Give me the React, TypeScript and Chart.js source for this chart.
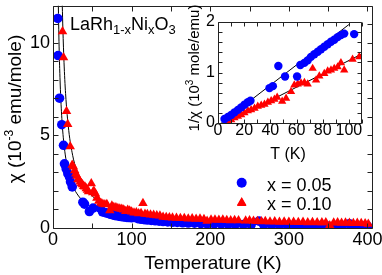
import React, { useEffect, useRef } from 'react';
import { Chart, registerables } from 'chart.js';
Chart.register(...registerables);

const FONT = '"Liberation Sans", Arial, Helvetica, sans-serif';

// ---- Main chart data: chi (10^-3 emu/mole) vs T (K)
const blueT = [6.0, 6.5, 8.3, 11.2, 13.4, 14.6, 16.8, 18.9, 21.0, 22.3, 24.5, 38.0, 40.1, 46.3, 51.0, 60.0, 63.0, 66.0, 68.5, 71.0, 73.6, 76.0, 78.7, 81.0, 84.0, 86.3, 89.0, 91.4, 94.0, 96.4, 100, 104, 108, 112, 116, 120, 125, 130, 135, 140, 146, 152, 158, 165, 172, 180, 188, 196, 205, 214, 223, 232, 242, 252, 262, 268, 278, 288, 298, 308, 318, 328, 338, 348, 358, 368, 377, 385, 393, 400];
const blueChi = [11.3, 9.3, 7.0, 5.57, 4.46, 3.46, 3.19, 2.93, 2.75, 2.49, 2.22, 1.39, 1.29, 0.89, 1.07, 1.07, 0.87, 0.84, 0.81, 0.77, 0.74, 0.71, 0.68, 0.66, 0.64, 0.62, 0.605, 0.59, 0.575, 0.565, 0.55, 0.57, 0.5, 0.47, 0.45, 0.43, 0.41, 0.39, 0.37, 0.35, 0.33, 0.31, 0.3, 0.28, 0.27, 0.26, 0.24, 0.23, 0.22, 0.21, 0.2, 0.19, 0.18, 0.17, 0.37, 0.17, 0.16, 0.15, 0.15, 0.14, 0.14, 0.13, 0.13, 0.12, 0.12, 0.12, 0.23, 0.11, 0.1, 0.1];

const redT = [12.1, 13.4, 17.2, 18.7, 21.9, 24.4, 26.0, 27.6, 29.0, 30.4, 31.8, 33.2, 34.6, 36.0, 37.5, 39.0, 40.6, 42.3, 43.8, 45.2, 48.7, 50.5, 52.0, 54.0, 55.8, 58.3, 60.9, 63.4, 66.0, 68.5, 72.3, 74.9, 77.4, 80.0, 82.5, 85.0, 87.5, 90.0, 92.5, 95.0, 97.5, 100, 103, 106, 109, 112, 114.4, 117, 120, 124, 128, 132, 136, 140, 144, 148, 152, 157, 162, 167, 172, 177, 182, 187, 192, 196, 201, 206, 211, 216, 221, 226, 231, 236, 240, 245, 250, 255, 260, 265, 270, 276, 282, 288, 294, 300, 306, 312, 318, 324, 330, 336, 342, 347, 352, 357, 362, 367, 372, 377, 382, 387, 392, 397, 401];
const redChi = [10.6, 9.2, 6.3, 5.6, 4.39, 3.4, 3.3, 3.1, 2.93, 2.8, 2.63, 2.6, 2.5, 2.4, 2.35, 2.25, 2.22, 2.13, 2.05, 1.97, 2.4, 1.92, 2.0, 1.85, 1.62, 1.45, 1.35, 1.3, 1.27, 1.28, 0.95, 1.2, 1.12, 1.1, 1.06, 1.04, 1.02, 0.98, 0.9, 0.97, 0.93, 0.88, 0.82, 0.84, 0.78, 0.8, 1.34, 0.76, 0.74, 0.72, 0.7, 0.68, 0.66, 0.6, 0.58, 0.56, 0.55, 0.54, 0.52, 0.53, 0.5, 0.51, 0.49, 0.5, 0.47, 0.38, 0.45, 0.44, 0.43, 0.44, 0.42, 0.41, 0.42, 0.4, 1.34, 0.39, 0.4, 0.38, 0.37, 0.35, 0.36, 0.34, 0.35, 0.33, 0.34, 0.32, 0.33, 0.31, 0.32, 0.3, 0.31, 0.29, 0.3, 0.29, 0.14, 0.28, 0.29, 0.27, 0.28, 0.27, 0.26, 0.27, 0.25, 0.24, 0.22];

// Curie-Weiss fit curves (black)
const blueFitT = [6.8, 7.5, 8.5, 10, 12, 15, 20, 25, 30, 40, 50, 60, 80, 100, 150, 200, 300, 400];
const blueFitChi = [12.0, 10.3, 8.6, 6.9, 5.44, 4.14, 2.95, 2.3, 1.88, 1.38, 1.09, 0.9, 0.67, 0.53, 0.35, 0.26, 0.17, 0.13];
const redFitT = [11.8, 12.6, 14, 16, 20, 25, 30, 40, 50, 60, 80, 100, 150, 200, 300, 400];
const redFitChi = [12.0, 10.7, 8.94, 7.25, 5.27, 3.92, 3.13, 2.22, 1.72, 1.41, 1.03, 0.81, 0.53, 0.395, 0.26, 0.195];

// ---- Inset data: 1/chi (10^3 mole/emu) vs T (K)
const insetBlueT = [5.0, 7.6, 10.1, 12.6, 15.2, 17.7, 20.2, 22.8, 24.8, 39.3, 41.9, 46.1, 51.2, 60.4, 62.9, 66.0, 68.5, 71.0, 73.6, 76.2, 78.7, 81.2, 83.8, 86.3, 88.8, 91.4, 93.9, 96.4, 104];
const insetBlueInv = [0.08, 0.12, 0.16, 0.21, 0.26, 0.31, 0.36, 0.41, 0.44, 0.69, 0.73, 1.13, 0.92, 0.92, 1.15, 1.19, 1.24, 1.31, 1.36, 1.41, 1.46, 1.51, 1.56, 1.61, 1.65, 1.7, 1.74, 1.77, 1.76];
const insetRedT = [7.6, 10.1, 12.6, 15.2, 17.7, 20.2, 22.8, 25.3, 27.9, 30.4, 33.0, 35.5, 38.1, 40.6, 43.1, 45.2, 49.0, 52.0, 55.8, 58.3, 60.9, 63.4, 66.0, 68.5, 72.3, 74.9, 77.4, 81.2, 83.8, 86.3, 88.8, 91.4, 93.9, 96.4, 102.8, 107.9];
const insetRedInv = [0.03, 0.06, 0.1, 0.13, 0.16, 0.2, 0.24, 0.26, 0.29, 0.33, 0.35, 0.37, 0.41, 0.44, 0.47, 0.51, 0.43, 0.49, 0.62, 0.75, 0.77, 0.79, 0.8, 0.77, 1.08, 0.85, 0.93, 0.98, 1.03, 1.05, 1.08, 1.11, 1.19, 1.05, 1.26, 1.31];
const insetBlueFitT = [2.5, 100];
const insetBlueFitInv = [0, 1.95];
const insetRedFitT = [6.3, 110];
const insetRedFitInv = [0, 1.37];

const legendLabels = ['x = 0.05', 'x = 0.10'];
const BLUE = '#0000ff';
const RED = '#ff0000';

const pts = (xs: number[], ys: number[]) => xs.map((x, i) => ({ x, y: ys[i] }));

type Seg = { t: string; size: number; dy?: number };
function drawRich(ctx: CanvasRenderingContext2D, segs: Seg[], x: number, y: number, rot = 0, align: 'center' | 'left' = 'center') {
  ctx.save();
  ctx.translate(x, y);
  ctx.rotate(rot);
  ctx.textBaseline = 'alphabetic';
  ctx.textAlign = 'left';
  ctx.fillStyle = '#000';
  let total = 0;
  const widths: number[] = [];
  for (const s of segs) {
    ctx.font = `${s.size}px ${FONT}`;
    const w = ctx.measureText(s.t).width;
    widths.push(w);
    total += w;
  }
  let cx = align === 'center' ? -total / 2 : 0;
  segs.forEach((s, i) => {
    ctx.font = `${s.size}px ${FONT}`;
    ctx.fillText(s.t, cx, s.dy || 0);
    cx += widths[i];
  });
  ctx.restore();
}

function framePlugin(len: number) {
  return {
    id: 'frameTicks',
    afterDatasetsDraw(chart: any) {
      const { ctx, chartArea } = chart;
      const L = Math.round(chartArea.left) + 0.5;
      const R = Math.round(chartArea.right) - 0.5;
      const T = Math.round(chartArea.top) + 0.5;
      const B = Math.round(chartArea.bottom) + 0.5;
      const xs = chart.scales.x;
      const ys = chart.scales.y;
      ctx.save();
      ctx.strokeStyle = '#222';
      ctx.lineWidth = 1;
      ctx.beginPath();
      ctx.rect(L, T, R - L, B - T);
      for (const t of xs.ticks) {
        const p = Math.round(xs.getPixelForValue(t.value)) + 0.5;
        ctx.moveTo(p, B); ctx.lineTo(p, B - len);
        ctx.moveTo(p, T); ctx.lineTo(p, T + len);
      }
      for (const t of ys.ticks) {
        const p = Math.round(ys.getPixelForValue(t.value)) + 0.5;
        ctx.moveTo(L, p); ctx.lineTo(L + len, p);
        ctx.moveTo(R, p); ctx.lineTo(R - len, p);
      }
      ctx.stroke();
      ctx.restore();
    },
  };
}

const mainTextPlugin = {
  id: 'mainText',
  afterDraw(chart: any) {
    const ctx: CanvasRenderingContext2D = chart.ctx;
    drawRich(ctx, [{ t: 'Temperature (K)', size: 19 }], 213, 268.5);
    drawRich(ctx, [
      { t: 'χ (10', size: 19 },
      { t: '-3', size: 12, dy: -8 },
      { t: ' emu/mole)', size: 19 },
    ], 21, 109, -Math.PI / 2);
    drawRich(ctx, [
      { t: 'LaRh', size: 18 },
      { t: '1-x', size: 13, dy: 4 },
      { t: 'Ni', size: 18 },
      { t: 'x', size: 13, dy: 4 },
      { t: 'O', size: 18 },
      { t: '3', size: 13, dy: 4 },
    ], 70, 30, 0, 'left');
    // legend
    ctx.save();
    ctx.fillStyle = BLUE;
    ctx.beginPath();
    ctx.arc(241.7, 182.7, 5, 0, Math.PI * 2);
    ctx.fill();
    ctx.fillStyle = RED;
    const r = 5.5, cx = 241.7, cy = 202.5;
    ctx.beginPath();
    ctx.moveTo(cx, cy - r);
    ctx.lineTo(cx + r * Math.sin((2 * Math.PI) / 3), cy - r * Math.cos((2 * Math.PI) / 3));
    ctx.lineTo(cx - r * Math.sin((2 * Math.PI) / 3), cy - r * Math.cos((2 * Math.PI) / 3));
    ctx.closePath();
    ctx.fill();
    ctx.restore();
    drawRich(ctx, [{ t: legendLabels[0], size: 18 }], 267, 190.5, 0, 'left');
    drawRich(ctx, [{ t: legendLabels[1], size: 18 }], 267, 210, 0, 'left');
  },
};

const insetTextPlugin = {
  id: 'insetText',
  beforeDraw(chart: any) {
    const { ctx, chartArea } = chart;
    ctx.save();
    ctx.fillStyle = '#fff';
    ctx.fillRect(chartArea.left, chartArea.top, chartArea.right - chartArea.left, chartArea.bottom - chartArea.top);
    ctx.restore();
  },
  afterDraw(chart: any) {
    const ctx: CanvasRenderingContext2D = chart.ctx;
    drawRich(ctx, [{ t: 'T (K)', size: 16 }], 108, 158.5);
    drawRich(ctx, [
      { t: '1/χ (10', size: 15 },
      { t: '3', size: 10, dy: -6 },
      { t: ' mole/emu)', size: 15 },
    ], 18.5, 68, -Math.PI / 2);
  },
};

function tickFont(size: number, lineHeight?: number) {
  const f: any = { family: FONT, size };
  if (lineHeight) f.lineHeight = lineHeight;
  return f;
}

export default function App() {
  const mainRef = useRef<HTMLCanvasElement>(null);
  const insetRef = useRef<HTMLCanvasElement>(null);

  useEffect(() => {
    const main = new Chart(mainRef.current as HTMLCanvasElement, {
      type: 'scatter',
      data: {
        datasets: [
          { label: legendLabels[1], data: pts(redT, redChi), pointStyle: 'triangle', pointRadius: 5.5, backgroundColor: RED, borderWidth: 0, order: 1 } as any,
          { label: legendLabels[0], data: pts(blueT, blueChi), pointStyle: 'circle', pointRadius: 4.8, backgroundColor: BLUE, borderWidth: 0, order: 2 } as any,
          { label: 'fit 0.05', data: pts(blueFitT, blueFitChi), showLine: true, borderColor: '#000', borderWidth: 1, pointRadius: 0, cubicInterpolationMode: 'monotone', order: 3 } as any,
          { label: 'fit 0.10', data: pts(redFitT, redFitChi), showLine: true, borderColor: '#000', borderWidth: 1, pointRadius: 0, cubicInterpolationMode: 'monotone', order: 4 } as any,
        ],
      },
      options: {
        responsive: false,
        animation: false,
        events: [],
        layout: { padding: { left: 0, right: 9, top: 0, bottom: 0 } },
        plugins: { legend: { display: false }, tooltip: { enabled: false } },
        scales: {
          x: {
            type: 'linear', min: 0, max: 407,
            grid: { display: false, drawTicks: false },
            border: { display: false },
            afterFit(s: any) { s.height = 47; s.paddingLeft = 0; s.paddingRight = 0; },
            ticks: {
              stepSize: 50, includeBounds: false, autoSkip: false, maxRotation: 0, padding: 1, color: '#000',
              font: tickFont(18),
              callback: (v: any) => (Number(v) % 100 === 0 ? String(v) : ''),
            },
          },
          y: {
            type: 'linear', min: 0, max: 12,
            grid: { display: false, drawTicks: false },
            border: { display: false },
            afterFit(s: any) { s.width = 53; s.paddingTop = 0; s.paddingBottom = 0; },
            ticks: {
              stepSize: 1, includeBounds: false, autoSkip: false, padding: 3, color: '#000',
              font: tickFont(18),
              callback: (v: any) => (Number(v) % 5 === 0 ? String(v) : ''),
            },
          },
        },
      } as any,
      plugins: [framePlugin(5), mainTextPlugin],
    });

    const inset = new Chart(insetRef.current as HTMLCanvasElement, {
      type: 'scatter',
      data: {
        datasets: [
          { label: legendLabels[0], data: pts(insetBlueT, insetBlueInv), pointStyle: 'circle', pointRadius: 4.2, backgroundColor: BLUE, borderWidth: 0, order: 1 } as any,
          { label: legendLabels[1], data: pts(insetRedT, insetRedInv), pointStyle: 'triangle', pointRadius: 4.8, backgroundColor: RED, borderWidth: 0, order: 2 } as any,
          { label: 'fit 0.05', data: pts(insetBlueFitT, insetBlueFitInv), showLine: true, borderColor: '#000', borderWidth: 1, pointRadius: 0, order: 3 } as any,
          { label: 'fit 0.10', data: pts(insetRedFitT, insetRedFitInv), showLine: true, borderColor: '#000', borderWidth: 1, pointRadius: 0, order: 4 } as any,
        ],
      },
      options: {
        responsive: false,
        animation: false,
        events: [],
        layout: { padding: { left: 0, right: 8, top: 22, bottom: 0 } },
        plugins: { legend: { display: false }, tooltip: { enabled: false } },
        scales: {
          x: {
            type: 'linear', min: 0, max: 110,
            grid: { display: false, drawTicks: false },
            border: { display: false },
            afterFit(s: any) { s.height = 47; s.paddingLeft = 0; s.paddingRight = 0; },
            ticks: {
              stepSize: 10, includeBounds: false, autoSkip: false, maxRotation: 0, padding: 0, color: '#000',
              font: tickFont(16, 1),
              callback: (v: any) => (Number(v) % 20 === 0 ? String(v) : ''),
            },
          },
          y: {
            type: 'linear', min: 0, max: 2,
            grid: { display: false, drawTicks: false },
            border: { display: false },
            afterFit(s: any) { s.width = 38; s.paddingTop = 0; s.paddingBottom = 0; },
            ticks: {
              stepSize: 0.2, includeBounds: false, autoSkip: false, padding: 3, color: '#000',
              font: tickFont(16),
              callback: (v: any) => (Math.abs(Number(v) - Math.round(Number(v))) < 1e-6 ? String(Math.round(Number(v))) : ''),
            },
          },
        },
      } as any,
      plugins: [framePlugin(4), insetTextPlugin],
    });

    return () => {
      main.destroy();
      inset.destroy();
    };
  }, []);

  return (
    <div style={{ position: 'absolute', left: 0, top: 0, width: 382, height: 275, background: '#fff' }}>
      <canvas ref={mainRef} width={382} height={275} style={{ position: 'absolute', left: 0, top: 0 }} />
      <canvas ref={insetRef} width={190} height={170} style={{ position: 'absolute', left: 180, top: 0 }} />
    </div>
  );
}
